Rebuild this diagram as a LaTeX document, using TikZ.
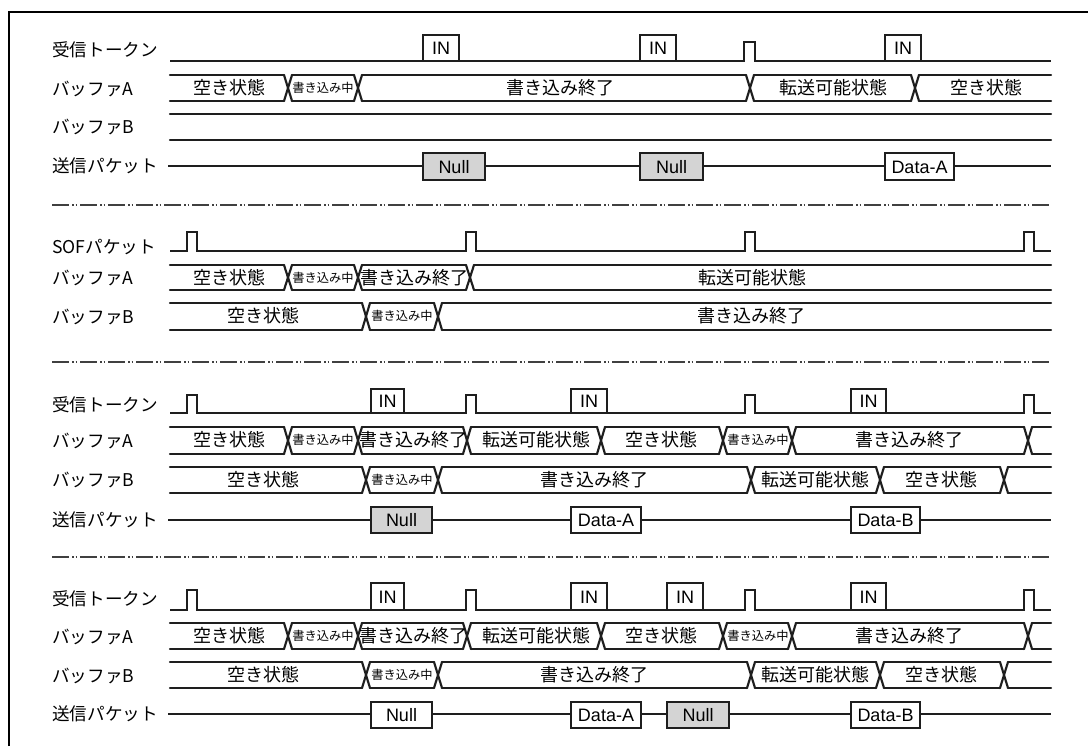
\documentclass[tikz,border=0pt]{standalone}
\usepackage{fontspec}
\setmainfont{Liberation Sans}
\newfontfamily\jpf{Noto Sans CJK JP}
\definecolor{ln}{RGB}{30,30,30}
\definecolor{nullgray}{RGB}{212,212,212}
\tikzset{
  bus/.style={draw=ln,line width=1.6pt,line cap=round},
  sig/.style={draw=ln,line width=1.3pt,line join=miter},
  pktline/.style={draw=ln,line width=1.1pt},
  box/.style={draw=ln,line width=1.5pt,fill=white},
  graybox/.style={draw=ln,line width=1.5pt,fill=nullgray},
  boxtext/.style={font=\fontsize{13.5}{15}\selectfont,inner sep=0pt},
  rowlabel/.style={anchor=west,inner sep=0pt,font=\jpf\fontsize{13.2}{15}\selectfont},
  state/.style={inner sep=0pt,font=\jpf\fontsize{13.5}{15}\selectfont},
  smallstate/.style={inner sep=0pt,font=\jpf\fontsize{9.2}{10}\selectfont},
  sepline/.style={draw=ln!85,line width=0.8pt,dash pattern=on 13pt off 2pt on 1.2pt off 1.6pt on 1.2pt off 2pt},
  frameline/.style={draw=black,line width=2.2pt}
}
\newcommand{\busrow}[3]{%
  \foreach \t [remember=\t as \p (initially 166)] in {#3,1055}{
    \draw[bus] (\p+4,#1) -- (\t-4,#1);
    \draw[bus] (\p+4,#2) -- (\t-4,#2);
  }
  \foreach \t in {#3}{
    \draw[bus] (\t-4,#1) -- (\t+4,#2);
    \draw[bus] (\t-4,#2) -- (\t+4,#1);
  }}
\newcommand{\pulsesrow}[2]{%
  \draw[sig] (170,#1) -- (187,#1) -- (187,#2) -- (197,#2) -- (197,#1)
    -- (466,#1) -- (466,#2) -- (476,#2) -- (476,#1)
    -- (745,#1) -- (745,#2) -- (755,#2) -- (755,#1)
    -- (1024,#1) -- (1024,#2) -- (1034,#2) -- (1034,#1) -- (1051,#1);}
% #1 name, #2 x1, #3 x2, #4 ytop, #5 ybot, #6 style, #7 text
\newcommand{\pktbox}[7]{%
  \draw[#6] (#2,#4) rectangle (#3,#5);
  \node[boxtext] (#1) at ({(#2+#3)/2},{(#4+#5)/2+0.5}) {#7};}
\begin{document}
\begin{tikzpicture}[x=0.75pt,y=-0.75pt]
\useasboundingbox (0,0) rectangle (1088,746);
\fill[white] (0,0) rectangle (1088,746);
\draw[frameline] (9,746) -- (9,12) -- (1088,12);

% ================= Panel 1 =================
\node[rowlabel] (l1t) at (52,50) {受信トークン};
\node[rowlabel] (l1a) at (52,89) {\jpf バッファA};
\node[rowlabel] (l1b) at (52,127) {\jpf バッファB};
\node[rowlabel] (l1p) at (52,166) {送信パケット};
\draw[sig] (170,61) -- (744,61) -- (744,42) -- (755,42) -- (755,61) -- (1051,61);
\pktbox{in1a}{423}{459}{35}{61}{box}{IN}
\pktbox{in1b}{640}{676}{35}{61}{box}{IN}
\pktbox{in1c}{885}{921}{35}{61}{box}{IN}
\busrow{75}{101}{288,358,750,915}
\node[state] (s1a1) at (229,88) {空き状態};
\node[smallstate] (s1a2) at (323,88) {書き込み中};
\node[state] (s1a3) at (560,88) {書き込み終了};
\node[state] (s1a4) at (833,88) {転送可能状態};
\node[state] (s1a5) at (986,88) {空き状態};
\draw[bus] (170,114) -- (1051,114);
\draw[bus] (170,140) -- (1051,140);
\draw[pktline] (168,166) -- (1051,166);
\pktbox{p1a}{423}{485}{153}{180}{graybox}{Null}
\pktbox{p1b}{640}{703}{153}{180}{graybox}{Null}
\pktbox{p1c}{885}{954}{153}{180}{box}{Data-A}

\draw[sepline] (52,205) -- (1051,205);

% ================= Panel 2 =================
\node[rowlabel] (l2t) at (52,247) {\jpf SOFパケット};
\node[rowlabel] (l2a) at (52,278) {\jpf バッファA};
\node[rowlabel] (l2b) at (52,317) {\jpf バッファB};
\pulsesrow{251}{232}
\busrow{265}{290}{288,358,470}
\node[state] (s2a1) at (229,278) {空き状態};
\node[smallstate] (s2a2) at (323,278) {書き込み中};
\node[state] (s2a3) at (414,278) {書き込み終了};
\node[state] (s2a4) at (752,278) {転送可能状態};
\busrow{303}{330}{366,438}
\node[state] (s2b1) at (263,316) {空き状態};
\node[smallstate] (s2b2) at (402,316) {書き込み中};
\node[state] (s2b3) at (751,316) {書き込み終了};

\draw[sepline] (52,362) -- (1051,362);

% ================= Panel 3 =================
\node[rowlabel] (l3t) at (52,405) {受信トークン};
\node[rowlabel] (l3a) at (52,441) {\jpf バッファA};
\node[rowlabel] (l3b) at (52,480) {\jpf バッファB};
\node[rowlabel] (l3p) at (52,520) {送信パケット};
\pulsesrow{413}{395}
\pktbox{in3a}{371}{404}{389}{413}{box}{IN}
\pktbox{in3b}{571}{607}{389}{413}{box}{IN}
\pktbox{in3c}{851}{886}{389}{413}{box}{IN}
\busrow{427}{454}{288,358,467,601,723,792,1028}
\node[state] (s3a1) at (229,440) {空き状態};
\node[smallstate] (s3a2) at (323,440) {書き込み中};
\node[state] (s3a3) at (413,440) {書き込み終了};
\node[state] (s3a4) at (536,440) {転送可能状態};
\node[state] (s3a5) at (661,440) {空き状態};
\node[smallstate] (s3a6) at (758,440) {書き込み中};
\node[state] (s3a7) at (909,440) {書き込み終了};
\busrow{467}{493}{366,438,751,880,1004}
\node[state] (s3b1) at (263,480) {空き状態};
\node[smallstate] (s3b2) at (402,480) {書き込み中};
\node[state] (s3b3) at (594,480) {書き込み終了};
\node[state] (s3b4) at (815,480) {転送可能状態};
\node[state] (s3b5) at (941,480) {空き状態};
\draw[pktline] (168,520) -- (1051,520);
\pktbox{p3a}{371}{432}{507}{533}{graybox}{Null}
\pktbox{p3b}{571}{641}{507}{533}{box}{Data-A}
\pktbox{p3c}{851}{920}{507}{533}{box}{Data-B}

\draw[sepline] (52,557) -- (1051,557);

% ================= Panel 4 =================
\node[rowlabel] (l4t) at (52,599) {受信トークン};
\node[rowlabel] (l4a) at (52,637) {\jpf バッファA};
\node[rowlabel] (l4b) at (52,676) {\jpf バッファB};
\node[rowlabel] (l4p) at (52,714) {送信パケット};
\pulsesrow{610}{590}
\pktbox{in4a}{371}{404}{583}{610}{box}{IN}
\pktbox{in4b}{571}{607}{583}{610}{box}{IN}
\pktbox{in4c}{667}{703}{583}{610}{box}{IN}
\pktbox{in4d}{851}{886}{583}{610}{box}{IN}
\busrow{623}{649}{288,358,467,601,723,792,1028}
\node[state] (s4a1) at (229,636) {空き状態};
\node[smallstate] (s4a2) at (323,636) {書き込み中};
\node[state] (s4a3) at (413,636) {書き込み終了};
\node[state] (s4a4) at (536,636) {転送可能状態};
\node[state] (s4a5) at (661,636) {空き状態};
\node[smallstate] (s4a6) at (758,636) {書き込み中};
\node[state] (s4a7) at (909,636) {書き込み終了};
\busrow{662}{688}{366,438,751,880,1004}
\node[state] (s4b1) at (263,675) {空き状態};
\node[smallstate] (s4b2) at (402,675) {書き込み中};
\node[state] (s4b3) at (594,675) {書き込み終了};
\node[state] (s4b4) at (815,675) {転送可能状態};
\node[state] (s4b5) at (941,675) {空き状態};
\draw[pktline] (168,714) -- (1051,714);
\pktbox{p4a}{371}{432}{702}{728}{box}{Null}
\pktbox{p4b}{571}{641}{702}{728}{box}{Data-A}
\pktbox{p4c}{667}{729}{702}{728}{graybox}{Null}
\pktbox{p4d}{851}{920}{702}{728}{box}{Data-B}
\end{tikzpicture}
\end{document}
